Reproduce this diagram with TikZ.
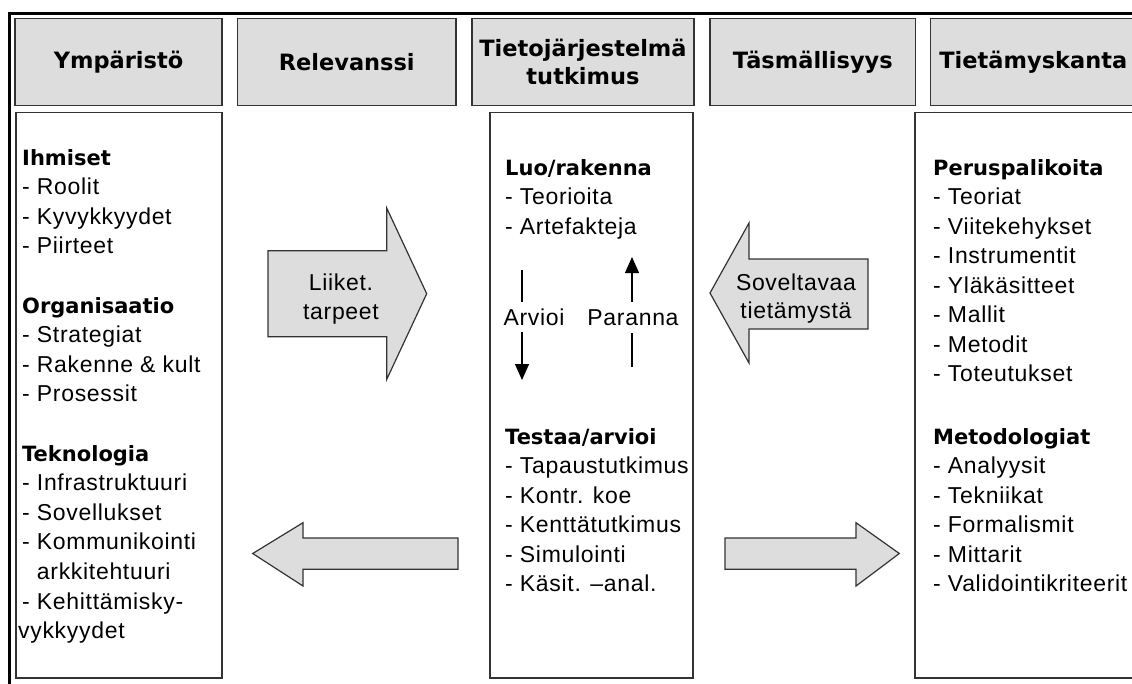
\documentclass[tikz,border=0pt]{standalone}
\usepackage{fontspec}
\usetikzlibrary{arrows.meta}
\setmainfont{Liberation Sans}
\newfontfamily\bodyfont{Liberation Sans}[LetterSpace=3]
\newfontfamily\headfont{DejaVu Sans Bold}
\definecolor{panelgray}{HTML}{DDDDDD}
\definecolor{edgegray}{HTML}{333333}

% one column of list items, baselines spaced evenly below a heading
\newcommand\itemcol[5]{%
  \foreach \lbl [count=\i] in {#5}{%
    \node[bodytxt] (#1-\i) at (#2,{#3+\i*#4}) {\lbl};}}

\begin{document}
\begin{tikzpicture}[x=1pt,y=-1pt,
  bodytxt/.style={anchor=base west, inner sep=0pt, font=\bodyfont\fontsize{23}{29.5}\selectfont},
  subhead/.style={anchor=base west, inner sep=0pt, font=\headfont\fontsize{21}{26}\selectfont},
  hdrbox/.style={draw=edgegray, line width=1.3pt, fill=panelgray, inner sep=0pt, align=center,
    minimum height=86.6pt, font=\headfont\fontsize{22.5}{28}\selectfont},
  panel/.style={draw=edgegray, line width=1.3pt, fill=white, inner sep=0pt, minimum height=565.3pt},
  blockarrow/.style={draw=edgegray, line width=1.2pt, fill=panelgray, line join=miter},
  flow/.style={line width=1.3pt, black},
  flowhead/.style={flow, -{Triangle[length=16pt,width=14pt]}},
  frameline/.style={line width=3pt, black}]

\clip (0,0) rectangle (1132,683);
\fill[white] (0,0) rectangle (1132,683);

% outer frame: top and left rules
\draw[frameline] (9.5,690) -- (9.5,13.7) -- (1140,13.7);

% column headings
\node[hdrbox, minimum width=207pt]   (h-env)  at (118.5,62.1)  {Ympäristö};
\node[hdrbox, minimum width=218.5pt] (h-rel)  at (346.75,62.1) {Relevanssi};
\node[hdrbox, minimum width=222pt]   (h-isr)  at (583,62.1)    {Tietojärjestelmä\\tutkimus};
\node[hdrbox, minimum width=205.5pt] (h-rig)  at (812.75,62.1) {Täsmällisyys};
\node[hdrbox, minimum width=205.4pt] (h-kb)   at (1033.3,62.1) {Tietämyskanta};

% content panels
\node[panel, minimum width=206pt] (envpanel) at (119,395.35) {};
\node[panel, minimum width=203pt] (respanel) at (591.5,395.35) {};
\node[panel, minimum width=225pt] (kbpanel)  at (1027.5,395.35) {};

% environment column
\node[subhead] (env-a-0) at (22,165) {Ihmiset};
\itemcol{env-a}{22}{165}{29.6}{- Roolit, - Kyvykkyydet, - Piirteet}
\node[subhead] (env-b-0) at (22,313) {Organisaatio};
\itemcol{env-b}{22}{313}{29.6}{- Strategiat, - Rakenne \& kult, - Prosessit}
\node[subhead] (env-c-0) at (22,461) {Teknologia};
\itemcol{env-c}{22}{461}{29.6}{- Infrastruktuuri, - Sovellukset, - Kommunikointi,
  \hphantom{- }arkkitehtuuri, - Kehittämisky-, \hspace*{-4pt}vykkyydet}

% research column
\node[subhead] (res-a-0) at (505,175) {Luo/rakenna};
\itemcol{res-a}{505}{175}{29.5}{- Teorioita, - Artefakteja}
\node[subhead] (res-b-0) at (505,444) {Testaa/arvioi};
\itemcol{res-b}{505}{444}{29.5}{- Tapaustutkimus, - Kontr. koe, - Kenttätutkimus,
  - Simulointi, - Käsit. –anal.}

% knowledge base column
\node[subhead] (kb-a-0) at (933,175) {Peruspalikoita};
\itemcol{kb-a}{933}{175}{29.5}{- Teoriat, - Viitekehykset, - Instrumentit,
  - Yläkäsitteet, - Mallit, - Metodit, - Toteutukset}
\node[subhead] (kb-b-0) at (933,444) {Metodologiat};
\itemcol{kb-b}{933}{444}{29.5}{- Analyysit, - Tekniikat, - Formalismit,
  - Mittarit, - Validointikriteerit}

% evaluate / refine loop
\node[bodytxt, anchor=base] (evaluate) at (534,325) {Arvioi};
\node[bodytxt, anchor=base] (refine)   at (633,325) {Paranna};
\coordinate (ev-a) at (522,270);
\coordinate (ev-b) at (522,302);
\coordinate (ev-c) at (522,332);
\coordinate (ev-d) at (522,380);
\coordinate (rf-a) at (632,367);
\coordinate (rf-b) at (632,333);
\coordinate (rf-c) at (632,302);
\coordinate (rf-d) at (632,257);
\draw[flow] (ev-a) -- (ev-b);
\draw[flowhead] (ev-c) -- (ev-d);
\draw[flow] (rf-a) -- (rf-b);
\draw[flowhead] (rf-c) -- (rf-d);

% block arrows between the columns
\draw[blockarrow] (268,250.7) -- (386.7,250.7) -- (386.7,208) -- (426.7,293.7)
  -- (386.7,379.4) -- (386.7,336.7) -- (268,336.7) -- cycle;
\node[bodytxt, anchor=base] (needs-1) at (341,290) {Liiket.};
\node[bodytxt, anchor=base] (needs-2) at (341,319) {tarpeet};

\draw[blockarrow] (710,293) -- (749,223) -- (749,259) -- (868,259)
  -- (868,329) -- (749,329) -- (749,363) -- cycle;
\node[bodytxt, anchor=base] (know-1) at (796,290) {Soveltavaa};
\node[bodytxt, anchor=base] (know-2) at (796,318) {tietämystä};

\draw[blockarrow] (252.7,553.5) -- (303,522.7) -- (303,538) -- (458,538)
  -- (458,569.3) -- (303,569.3) -- (303,586) -- cycle;

\draw[blockarrow] (725,538) -- (856,538) -- (856,522.7) -- (899.3,553.5)
  -- (856,586) -- (856,569.3) -- (725,569.3) -- cycle;

\end{tikzpicture}
\end{document}
